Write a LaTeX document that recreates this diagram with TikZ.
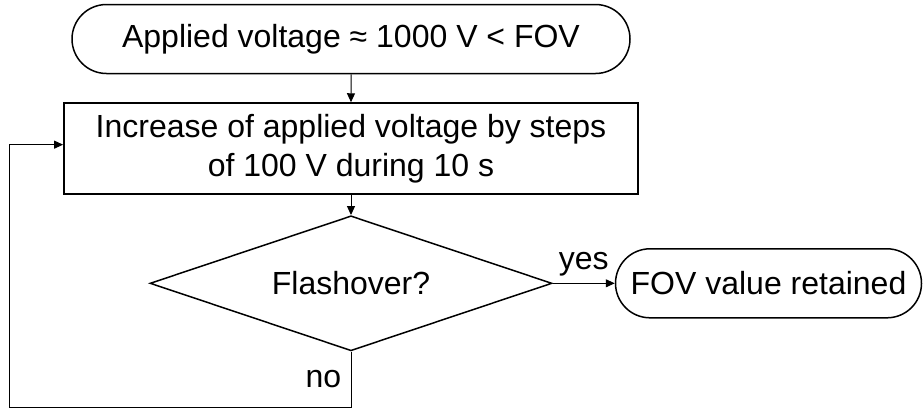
\documentclass[tikz,border=0pt]{standalone}
\usepackage{fontspec}
\setmainfont{Liberation Sans}
\usetikzlibrary{shapes.geometric, shapes.misc, arrows.meta, positioning}

\begin{document}
\begin{tikzpicture}[
    x=1pt, y=-1pt,
    every node/.style={font=\fontsize{32}{39}\selectfont},
    terminal/.style={rounded rectangle, draw=black, line width=1.5pt, inner sep=0pt, minimum height=69pt},
    process/.style={rectangle, draw=black, line width=1.8pt, align=center, minimum width=574pt, minimum height=91pt, inner sep=0pt},
    decision/.style={diamond, draw=black, line width=1.5pt, aspect=3, minimum width=402pt, minimum height=135pt, inner sep=0pt},
    arrow/.style={line width=1pt, -{Triangle[length=9pt, width=8pt]}}
]
\useasboundingbox (0,0) rectangle (923,410);

% Flow
\node (start) [terminal, minimum width=558pt] at (351,39) {Applied voltage ≈ 1000 V < FOV};
\node (incr) [process, below=28pt of start] {Increase of applied voltage by steps\\of 100 V during 10 s};
\node (flash) [decision, below=20pt of incr] {Flashover?};
\node (retained) [terminal, minimum width=306pt, right=62pt of flash] {FOV value retained};

% Loop corner
\coordinate (loopcorner) at (9,407);

% Connect
\draw [arrow] (start) -- (incr);
\draw [arrow] (incr) -- (flash);
\draw [arrow] (flash.east) -- node[above=3pt] {yes} (retained.west);
\draw [arrow] (flash.south) |- node[pos=0.25, left=6pt] {no} (loopcorner) |- ([yshift=4pt]incr.west);

\end{tikzpicture}
\end{document}
